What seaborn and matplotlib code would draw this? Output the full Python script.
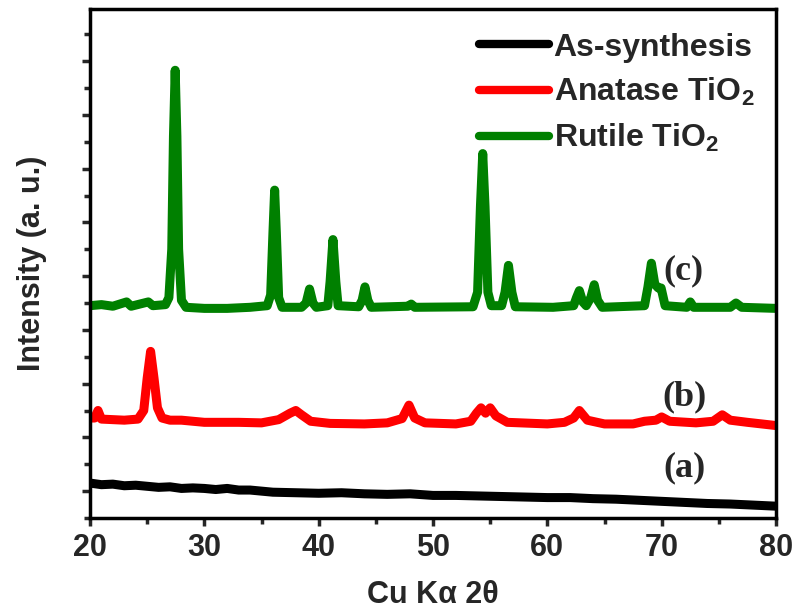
import matplotlib
matplotlib.use("Agg")
import matplotlib.pyplot as plt
import seaborn as sns
import pandas as pd

# ---- data ----
as_x = [20, 21, 22, 23, 24, 25, 26, 27, 28, 29, 30, 31, 32, 33, 34, 35, 36, 38, 40, 42, 44, 46, 48, 50,
        52, 54, 56, 58, 60, 62, 64, 66, 68, 70, 72, 74, 76, 78, 80]
as_y = [0.15, 0.12, 0.13, 0.10, 0.11, 0.09, 0.07, 0.08, 0.05, 0.06, 0.05, 0.03, 0.05, 0.02, 0.02, 0.00,
        -0.02, -0.03, -0.04, -0.03, -0.05, -0.06, -0.05, -0.08, -0.08, -0.09, -0.10, -0.11, -0.12,
        -0.12, -0.14, -0.15, -0.17, -0.19, -0.21, -0.23, -0.24, -0.26, -0.28]

an_x = [20.0, 20.4, 20.7, 21.0, 22.0, 23.0, 24.2, 24.7, 25.0, 25.3, 25.6, 25.9, 26.3, 27.0, 28.0, 30.0,
        33.0, 35.0, 36.5, 37.5, 38.0, 38.5, 39.3, 41.0, 44.0, 46.0, 47.3, 47.9, 48.4, 49.3, 52.0, 53.3,
        53.8, 54.2, 54.6, 55.0, 55.5, 56.5, 60.0, 61.5, 62.3, 62.8, 63.5, 65.0, 67.5, 68.5, 69.5, 70.0,
        70.7, 73.0, 74.5, 75.3, 76.0, 77.5, 80.0]
an_y = [1.36, 1.36, 1.50, 1.34, 1.33, 1.32, 1.34, 1.50, 2.10, 2.60, 2.10, 1.55, 1.36, 1.32, 1.32, 1.28,
        1.28, 1.27, 1.33, 1.45, 1.50, 1.42, 1.30, 1.26, 1.25, 1.27, 1.35, 1.60, 1.36, 1.27, 1.25, 1.30,
        1.45, 1.55, 1.45, 1.55, 1.40, 1.28, 1.25, 1.28, 1.36, 1.50, 1.32, 1.25, 1.25, 1.30, 1.32, 1.38,
        1.30, 1.27, 1.30, 1.42, 1.32, 1.28, 1.22]

ru_x = [20.0, 21.0, 22.0, 23.2, 23.6, 25.1, 25.5, 26.6, 26.9, 27.15, 27.3, 27.45, 27.6, 27.75, 28.0,
        28.4, 30.0, 32.0, 34.0, 35.5, 35.8, 36.0, 36.15, 36.3, 36.5, 36.8, 38.5, 38.9, 39.2, 39.5, 39.8,
        40.8, 41.0, 41.25, 41.5, 41.7, 43.5, 43.8, 44.05, 44.3, 44.6, 47.8, 48.1, 48.4, 53.5, 53.9,
        54.15, 54.35, 54.55, 54.8, 55.1, 56.0, 56.3, 56.6, 56.9, 57.2, 60.5, 62.3, 62.55, 62.8, 63.1,
        63.4, 63.8, 64.1, 64.4, 64.8, 68.5, 68.8, 69.1, 69.4, 69.7, 69.95, 70.3, 72.2, 72.5, 72.8,
        76.0, 76.5, 77.0, 80.0]
ru_y = [3.45, 3.47, 3.44, 3.52, 3.44, 3.52, 3.45, 3.47, 3.60, 4.50, 6.60, 7.83, 6.60, 4.50, 3.55,
        3.42, 3.40, 3.40, 3.42, 3.45, 3.65, 4.80, 5.60, 4.80, 3.60, 3.42, 3.42, 3.50, 3.76, 3.50, 3.42,
        3.45, 3.90, 4.68, 3.90, 3.45, 3.43, 3.55, 3.80, 3.55, 3.42, 3.44, 3.48, 3.42, 3.43, 3.70,
        5.30, 6.28, 5.30, 3.70, 3.45, 3.45, 3.70, 4.20, 3.70, 3.43, 3.42, 3.45, 3.60, 3.73, 3.52,
        3.45, 3.60, 3.84, 3.55, 3.42, 3.45, 3.80, 4.24, 3.85, 3.78, 3.78, 3.45, 3.42, 3.52, 3.42,
        3.42, 3.50, 3.42, 3.40]

labels = ["As-synthesis", r"Anatase TiO$_\mathbf{2}$", r"Rutile TiO$_\mathbf{2}$"]
colors = ["#000000", "#ff0000", "#008000"]
x_ticks = [20, 30, 40, 50, 60, 70, 80]
annot = ["(a)", "(b)", "(c)"]

df = pd.concat([
    pd.DataFrame({"x": as_x, "y": as_y, "s": labels[0]}),
    pd.DataFrame({"x": an_x, "y": an_y, "s": labels[1]}),
    pd.DataFrame({"x": ru_x, "y": ru_y, "s": labels[2]}),
], ignore_index=True)

sns.set_style("ticks")
plt.rcParams["font.family"] = ["Liberation Sans", "DejaVu Sans"]
plt.rcParams["font.weight"] = "bold"
plt.rcParams["mathtext.fontset"] = "custom"
plt.rcParams["mathtext.bf"] = "Liberation Sans:bold"
plt.rcParams["mathtext.rm"] = "Liberation Sans:bold"
plt.rcParams["lines.solid_joinstyle"] = "round"
plt.rcParams["lines.solid_capstyle"] = "round"

fig = plt.figure(figsize=(7.95, 6.11), dpi=100)
ax = fig.add_axes([90 / 795, 93 / 611, 686 / 795, 509 / 611])

sns.lineplot(data=df, x="x", y="y", hue="s", palette=dict(zip(labels, colors)),
             hue_order=labels, linewidth=6.5, ax=ax, sort=False, estimator=None)

ax.set_xlim(20, 80)
ax.set_ylim(-0.5, 8.97)
ax.set_xticks(x_ticks)
ax.set_xticks([25, 35, 45, 55, 65, 75], minor=True)
ax.set_yticks(range(0, 9))
ax.set_yticks([i + 0.5 for i in range(-1, 9)], minor=True)
ax.set_yticklabels([])
ax.tick_params(axis="both", which="major", direction="out", length=6, width=2.5,
               labelsize=22, pad=5)
ax.tick_params(axis="both", which="minor", direction="out", length=4, width=2.5)
ax.tick_params(top=False, right=False)
for lab in ax.get_xticklabels():
    lab.set_fontweight("bold")
for sp in ax.spines.values():
    sp.set_visible(True)
    sp.set_linewidth(2.5)
    sp.set_color("black")

ax.set_xlabel("Cu K\u03b1 2\u03b8", fontsize=22, fontweight="bold", labelpad=12)
ax.set_ylabel("Intensity (a. u.)", fontsize=22, fontweight="bold", labelpad=20)

ax.text(72.0, 0.43, annot[0], family="Liberation Serif", fontsize=26, fontweight="bold",
        ha="center", va="center")
ax.text(72.0, 1.75, annot[1], family="Liberation Serif", fontsize=26, fontweight="bold",
        ha="center", va="center")
ax.text(71.9, 4.09, annot[2], family="Liberation Serif", fontsize=26, fontweight="bold",
        ha="center", va="center")

leg = ax.legend(loc="upper right", bbox_to_anchor=(1.01, 1.01), frameon=False,
                prop={"family": "Liberation Sans", "weight": "bold", "size": 23},
                handlelength=2.2, handletextpad=0.15, labelspacing=0.42)
for h in leg.get_lines():
    h.set_linewidth(6.0)

fig.savefig("out.png", dpi=100)
